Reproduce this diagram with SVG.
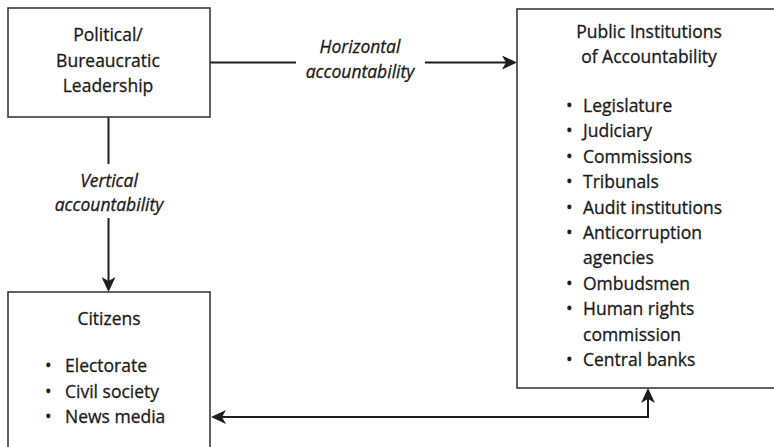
<svg xmlns="http://www.w3.org/2000/svg" width="774" height="447" viewBox="0 0 774 447">
  <defs>
    <style>
      .box { fill: #ffffff; stroke: #3a3a3a; stroke-width: 1.6; }
      .link { fill: none; stroke: #1e1e1e; stroke-width: 2; }
      .t { font-family: "Open Sans", "Noto Sans", "DejaVu Sans", sans-serif; font-size: 17.5px; fill: #1a1a1a; stroke: #1a1a1a; stroke-width: 0.3; }
      .mid { text-anchor: middle; }
      .it { font-style: italic; }
    </style>
    <!-- filled barbed arrowhead; tip sits 4px past the path end -->
    <marker id="arrow" markerUnits="userSpaceOnUse" markerWidth="16" markerHeight="14" viewBox="0 0 16 14" refX="11" refY="7" orient="auto">
      <path d="M0,0 L15,7 L0,14 L4,7 Z" fill="#1e1e1e"/>
    </marker>
  </defs>
  <rect width="774" height="447" fill="#ffffff"/>

  <!-- connectors -->
  <g id="connectors">
    <line class="link" x1="210" y1="62.5" x2="296" y2="62.5"/>
    <line class="link" x1="425" y1="62.5" x2="513" y2="62.5" marker-end="url(#arrow)"/>
    <text class="t mid it" x="360" y="53">Horizontal</text>
    <text class="t mid it" x="360" y="78">accountability</text>

    <line class="link" x1="108.5" y1="117" x2="108.5" y2="164"/>
    <line class="link" x1="108.5" y1="218" x2="108.5" y2="288" marker-end="url(#arrow)"/>
    <text class="t mid it" x="109" y="187">Vertical</text>
    <text class="t mid it" x="109" y="211">accountability</text>

    <!-- two-way link between citizens and institutions -->
    <path class="link" d="M215,417 L648,417 L648,392" marker-end="url(#arrow)"/>
    <path d="M211,417 L226,410 L222,417 L226,424 Z" fill="#1e1e1e"/>
  </g>

  <!-- Political/Bureaucratic Leadership -->
  <g id="leadership">
    <rect class="box" x="8" y="8" width="202" height="109"/>
    <text class="t mid" x="108" y="41">Political/</text>
    <text class="t mid" x="108" y="67">Bureaucratic</text>
    <text class="t mid" x="108" y="92">Leadership</text>
  </g>

  <!-- Public Institutions of Accountability -->
  <g id="institutions">
    <rect class="box" x="517" y="9" width="270" height="379"/>
    <text class="t mid" x="649" y="38">Public Institutions</text>
    <text class="t mid" x="649" y="63">of Accountability</text>
    <g class="t">
      <text x="566" y="112">•</text><text x="583" y="112">Legislature</text>
      <text x="566" y="137.4">•</text><text x="583" y="137.4">Judiciary</text>
      <text x="566" y="162.8">•</text><text x="583" y="162.8">Commissions</text>
      <text x="566" y="188.2">•</text><text x="583" y="188.2">Tribunals</text>
      <text x="566" y="213.6">•</text><text x="583" y="213.6">Audit institutions</text>
      <text x="566" y="239">•</text><text x="583" y="239">Anticorruption</text>
      <text x="583" y="264.4">agencies</text>
      <text x="566" y="289.8">•</text><text x="583" y="289.8">Ombudsmen</text>
      <text x="566" y="315.2">•</text><text x="583" y="315.2">Human rights</text>
      <text x="583" y="340.6">commission</text>
      <text x="566" y="366">•</text><text x="583" y="366">Central banks</text>
    </g>
  </g>

  <!-- Citizens -->
  <g id="citizens">
    <rect class="box" x="8" y="292" width="202" height="170"/>
    <text class="t mid" x="109" y="325">Citizens</text>
    <g class="t">
      <text x="45" y="372">•</text><text x="65" y="372">Electorate</text>
      <text x="45" y="397.5">•</text><text x="65" y="397.5">Civil society</text>
      <text x="45" y="423">•</text><text x="65" y="423">News media</text>
    </g>
  </g>
</svg>
